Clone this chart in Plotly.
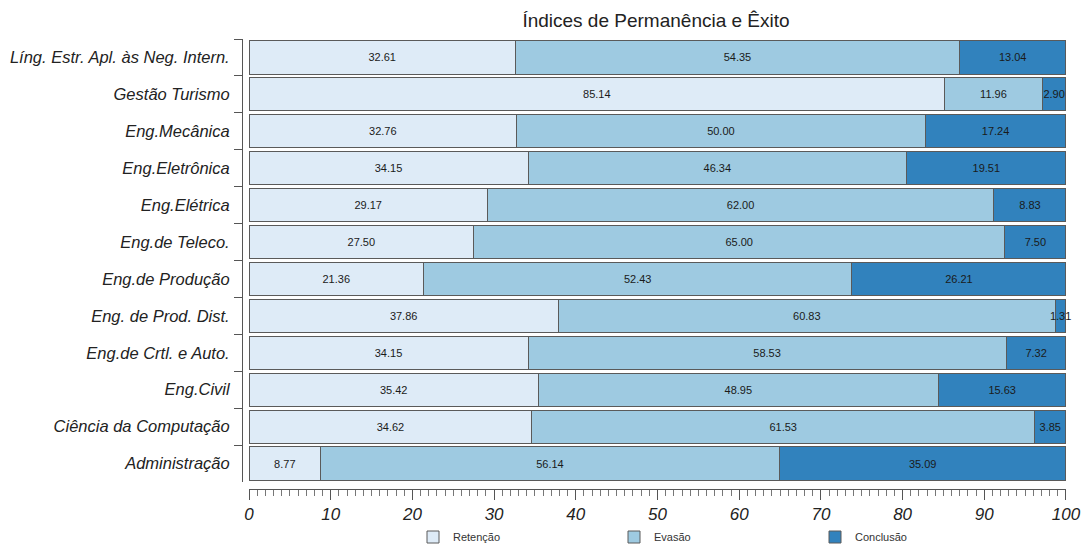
import plotly.graph_objects as go

categories = ["Líng. Estr. Apl. às Neg. Intern.", "Gestão Turismo", "Eng.Mecânica",
              "Eng.Eletrônica", "Eng.Elétrica", "Eng.de Teleco.", "Eng.de Produção",
              "Eng. de Prod. Dist.", "Eng.de Crtl. e Auto.", "Eng.Civil",
              "Ciência da Computação", "Administração"]
retencao = [32.61, 85.14, 32.76, 34.15, 29.17, 27.50, 21.36, 37.86, 34.15, 35.42, 34.62, 8.77]
evasao = [54.35, 11.96, 50.00, 46.34, 62.00, 65.00, 52.43, 60.83, 58.53, 48.95, 61.53, 56.14]
conclusao = [13.04, 2.90, 17.24, 19.51, 8.83, 7.50, 26.21, 1.31, 7.32, 15.63, 3.85, 35.09]
series_names = ["Retenção", "Evasão", "Conclusão"]
colors = ["#deebf7", "#9ecae1", "#3182bd"]

W, H = 1081, 544
fig = go.Figure()
for name, vals, col in zip(series_names, [retencao, evasao, conclusao], colors):
    fig.add_trace(go.Bar(
        y=categories, x=vals, name=name, orientation="h",
        marker=dict(color=col, line=dict(color="#5a5a5a", width=1)),
        texttemplate="%{x:.2f}", textposition="inside", insidetextanchor="middle",
        constraintext="none", textangle=0, cliponaxis=False,
        textfont=dict(family="Liberation Sans, Arial", size=11, color="#1a1a1a"),
        hoverinfo="skip",
    ))

fig.update_layout(
    width=W, height=H, barmode="stack", bargap=0.1,
    margin=dict(l=0, r=0, t=0, b=0, autoexpand=False),
    paper_bgcolor="white", plot_bgcolor="white",
    font=dict(family="Liberation Sans, Arial", color="#222222"),
    title=dict(text="Índices de Permanência e Êxito", x=656 / W, xanchor="center",
               y=1 - 20 / H, yanchor="middle",
               font=dict(size=19, color="#222222")),
    legend=dict(orientation="h", x=413 / W, xanchor="left", y=1 - 537 / H, yanchor="middle",
                entrywidth=156, entrywidthmode="pixels",
                font=dict(size=11, color="#333333"), bgcolor="rgba(0,0,0,0)",
                traceorder="normal"),
    xaxis=dict(domain=[249 / W, 1066 / W], range=[0, 100.001], anchor="free",
               position=1 - 489 / H, showline=True, linecolor="#555555", linewidth=1,
               ticks="outside", ticklen=10, tickcolor="#555555", dtick=10, tick0=0,
               showgrid=False, zeroline=False, automargin=False,
               tickfont=dict(size=17, family="Liberation Sans, Arial", style="italic", color="#222222"),
               minor=dict(dtick=1, ticks="outside", ticklen=6, tickcolor="#777777", showgrid=False)),
    yaxis=dict(domain=[1 - 482 / H, 1 - 39 / H], autorange="reversed", anchor="free",
               position=242 / W, showline=True, linecolor="#555555", linewidth=1,
               ticks="outside", ticklen=8, tickcolor="#555555", tickson="boundaries",
               ticklabelstandoff=9, showgrid=False, automargin=False,
               tickfont=dict(size=16.5, family="Liberation Sans, Arial", style="italic", color="#222222")),
)

fig.write_html("out.html")
